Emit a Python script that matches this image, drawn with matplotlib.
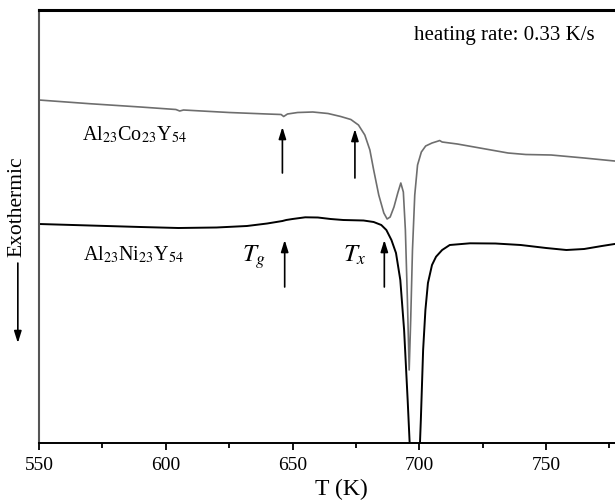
import matplotlib
matplotlib.use("Agg")
import matplotlib.pyplot as plt
from matplotlib.patches import FancyArrowPatch
from matplotlib.ticker import MultipleLocator

plt.rcParams['font.family'] = ['Liberation Serif', 'DejaVu Serif']
plt.rcParams['mathtext.fontset'] = 'stix'

# DSC traces (arbitrary heat-flow units, exothermic down)
t_co = [550, 570, 590, 604, 605.5, 607, 625, 640, 645.5, 646.5, 648, 652, 658,
        664, 669, 673, 676, 678.5, 680.5, 682, 684, 686, 687.3, 688.5, 690,
        691.5, 692.7, 693.7, 694.5, 695.3, 696.0, 696.6, 697.3, 698.2, 699.3,
        700.8, 702.5, 705, 707.5, 708, 709, 715, 725, 735, 742, 752, 765, 777, 789]
q_co = [342.7, 339, 335.7, 333.2, 331.7, 332.7, 330.2, 328.7, 328.2, 326.2, 328.7,
        330.2, 330.7, 329.2, 326.2, 323.2, 317.7, 307.7, 292.7, 272.7, 247.7, 229.7,
        223.7, 225.7, 235.7, 249.7, 259.7, 250.7, 212.7, 142.7, 72.7, 122.7, 192.7,
        247.7, 277.7, 290.7, 296.7, 299.7, 301.7, 302.2, 300.7, 298.7, 294.2, 289.7,
        288.2, 287.7, 284.7, 281.7, 279.7]

t_ni = [550, 570, 590, 605, 620, 632, 640, 646, 647.5, 650, 655, 660, 665, 670,
        678, 682, 685, 687, 689, 690.8, 692.5, 694, 695.4, 696.5, 698.5, 700,
        700.6, 701.5, 702.4, 703.4, 705, 706.6, 709, 712, 720, 730, 740, 750,
        758, 765, 772, 777, 789]
q_ni = [218.7, 217.2, 215.7, 214.7, 215.2, 216.7, 219.2, 221.7, 222.7, 223.7, 225.4,
        225.2, 223.7, 222.7, 222.2, 220.7, 217.7, 212.7, 202.7, 189.7, 162.7, 112.7,
        42.7, -17.3, -77, -17.3, 22.7, 92.7, 132.7, 159.7, 177.7, 186, 192.7, 197.7,
        199.4, 199.2, 197.7, 194.7, 192.7, 193.7, 196.7, 198.7, 202.7]

# glass transition / crystallization onsets
tg_co, tx_co = 646.0, 674.6
tg_ni, tx_ni = 646.9, 686.2

fig = plt.figure(figsize=(6.15, 5.03), dpi=100)
ax = fig.add_axes([0.0634, 0.1199, 0.9837, 0.8602])

ax.plot(t_co, q_co, color='#6e6e6e', lw=1.2)
ax.plot(t_ni, q_ni, color='black', lw=1.4)

ax.set_xlim(550, 788.6)
ax.set_ylim(0, 432.7)

arrow = dict(arrowstyle='-|>,head_length=0.7,head_width=0.22', color='black', lw=1.2,
             shrinkA=0, shrinkB=0)
for t, y0, y1 in [(tg_co, 269.7, 315.7), (tx_co, 264.7, 313.7),
                  (tg_ni, 155.7, 202.7), (tx_ni, 155.7, 202.7)]:
    ax.annotate('', xy=(t, y1), xytext=(t, y0), arrowprops=arrow)

ax.text(566.8, 302.7, 'Al$_{23}$Co$_{23}$Y$_{54}$', fontsize=14.5, va='baseline')
ax.text(567.3, 182.7, 'Al$_{23}$Ni$_{23}$Y$_{54}$', fontsize=14.5, va='baseline')
ax.text(630, 180.7, '$T_g$', fontsize=18, va='baseline')
ax.text(669.8, 180.7, '$T_x$', fontsize=18, va='baseline')
ax.text(0.62, 0.962, 'heating rate: 0.33 K/s', transform=ax.transAxes,
        fontsize=15, va='top', ha='left')

ax.set_xlabel('T (K)', fontsize=17, labelpad=4)
ax.xaxis.set_major_locator(MultipleLocator(50))
ax.xaxis.set_minor_locator(MultipleLocator(25))
ax.tick_params(axis='x', which='major', direction='out', length=5, width=1.3,
               labelsize=14, pad=5)
ax.tick_params(axis='x', which='minor', direction='out', length=3.5, width=1.3)
ax.set_yticks([])

ax.spines['top'].set_linewidth(2.2)
ax.spines['bottom'].set_linewidth(1.4)
ax.spines['left'].set_linewidth(1.5)
ax.spines['left'].set_color('#555555')

fig.text(0.0276, 0.5885, 'Exothermic', rotation=90, fontsize=15.5,
         ha='center', va='center')
fig.add_artist(FancyArrowPatch(
    (0.029, 0.477), (0.029, 0.318), transform=fig.transFigure,
    arrowstyle='-|>,head_length=0.7,head_width=0.22', mutation_scale=10,
    color='black', lw=1.2, shrinkA=0, shrinkB=0))

fig.savefig('out.png', dpi=100)
